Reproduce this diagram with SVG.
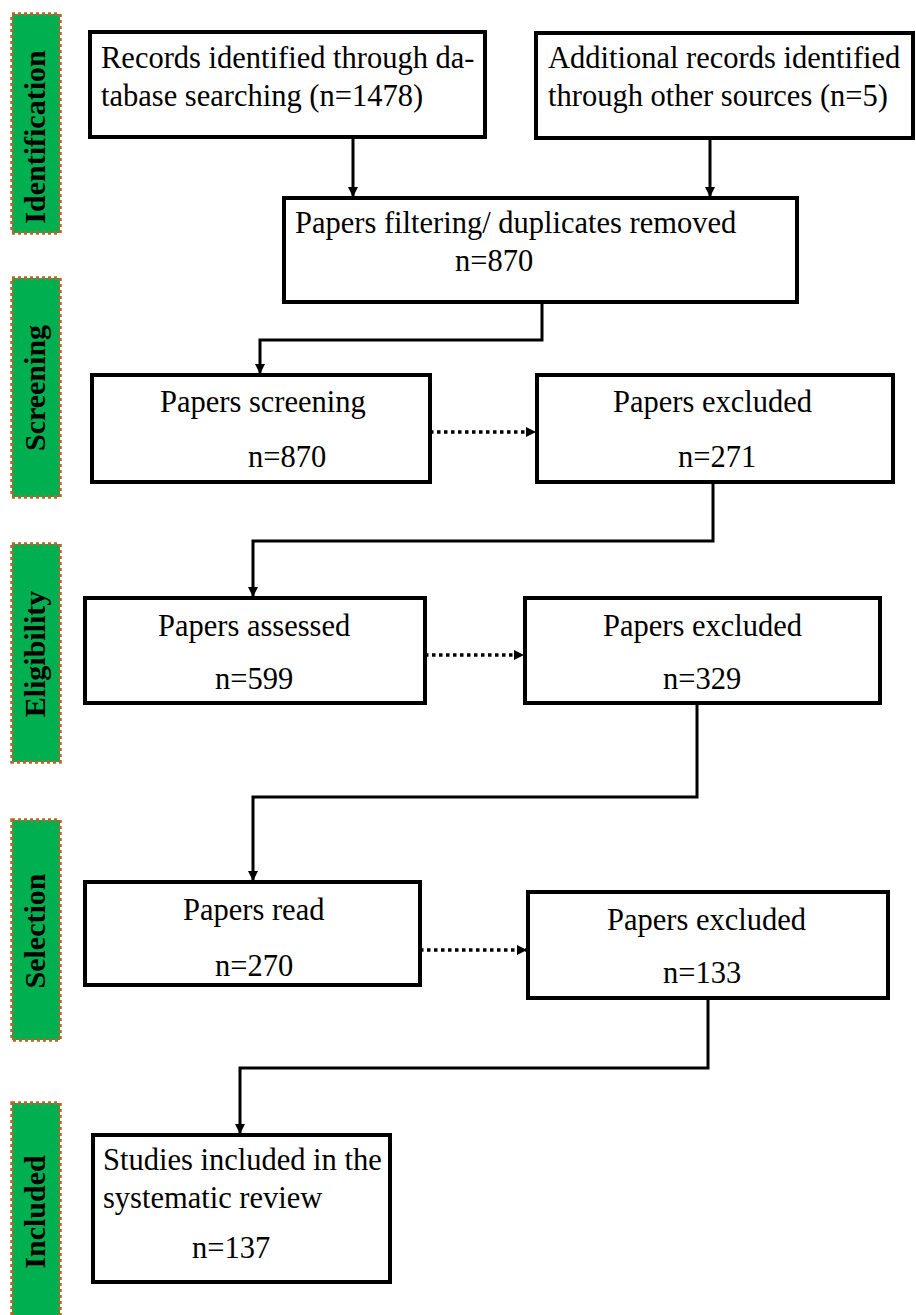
<svg xmlns="http://www.w3.org/2000/svg" width="916" height="1315" viewBox="0 0 916 1315">
<style>
.bar{fill:#00B050;stroke:#B8642A;stroke-width:3.5;stroke-dasharray:3 3}
.lbl{font-family:"Liberation Serif","Times New Roman",serif;font-weight:bold;font-size:30px;fill:#000;text-anchor:middle}
.box{fill:#fff;stroke:#000;stroke-width:4}
.t{font-family:"Liberation Serif","Times New Roman",serif;font-size:30.5px;fill:#000}
.c{fill:none;stroke:#000;stroke-width:3}
.d{fill:none;stroke:#000;stroke-width:3.5;stroke-dasharray:3.5 3.5}
</style>
<defs>
<marker id="ah" markerWidth="10" markerHeight="10" refX="9" refY="5" orient="auto" markerUnits="userSpaceOnUse">
<path d="M0,0 L10,5 L0,10 z" fill="#000"/>
</marker>
</defs>
<rect width="916" height="1315" fill="#fff"/>

<g id="phase-identification"><rect class="bar" x="12" y="14" width="48" height="219"/><text class="lbl" transform="translate(45,137) rotate(-90)">Identification</text></g>
<g id="phase-screening"><rect class="bar" x="12" y="278" width="48" height="219"/><text class="lbl" transform="translate(45,388) rotate(-90)">Screening</text></g>
<g id="phase-eligibility"><rect class="bar" x="12" y="544" width="48" height="218"/><text class="lbl" transform="translate(45,654) rotate(-90)">Eligibility</text></g>
<g id="phase-selection"><rect class="bar" x="12" y="820" width="48" height="220"/><text class="lbl" transform="translate(45,931) rotate(-90)">Selection</text></g>
<g id="phase-included"><rect class="bar" x="12" y="1103" width="48" height="220"/><text class="lbl" transform="translate(45,1212) rotate(-90)">Included</text></g>

<g id="connectors">
<path class="c" d="M353,137 V196" marker-end="url(#ah)"/>
<path class="c" d="M710,138 V196" marker-end="url(#ah)"/>
<path class="c" d="M542,302 V340 H260 V373" marker-end="url(#ah)"/>
<path class="d" d="M430,432 H535" marker-end="url(#ah)"/>
<path class="c" d="M713,482 V541 H253 V596" marker-end="url(#ah)"/>
<path class="d" d="M425,655 H523" marker-end="url(#ah)"/>
<path class="c" d="M697,703 V797 H253 V880" marker-end="url(#ah)"/>
<path class="d" d="M420,950 H526" marker-end="url(#ah)"/>
<path class="c" d="M708,998 V1068 H240 V1133" marker-end="url(#ah)"/>
</g>

<g id="records-db"><rect class="box" x="90" y="32" width="395" height="105"/><text class="t" x="101" y="68">Records identified through da-</text><text class="t" x="101" y="106">tabase searching (n=1478)</text></g>
<g id="records-other"><rect class="box" x="536" y="33" width="377" height="105"/><text class="t" x="548" y="68">Additional records identified</text><text class="t" x="548" y="106">through other sources (n=5)</text></g>
<g id="filtering"><rect class="box" x="284" y="198" width="513" height="104"/><text class="t" x="295" y="233">Papers filtering/ duplicates removed</text><text class="t" x="455" y="271">n=870</text></g>
<g id="screening"><rect class="box" x="92" y="375" width="338" height="107"/><text class="t" x="160" y="412">Papers screening</text><text class="t" x="248" y="467">n=870</text></g>
<g id="excluded-1"><rect class="box" x="537" y="375" width="356" height="107"/><text class="t" x="613" y="412">Papers excluded</text><text class="t" x="678" y="467">n=271</text></g>
<g id="assessed"><rect class="box" x="85" y="598" width="340" height="105"/><text class="t" x="158" y="636">Papers assessed</text><text class="t" x="215" y="689">n=599</text></g>
<g id="excluded-2"><rect class="box" x="525" y="598" width="355" height="105"/><text class="t" x="603" y="636">Papers excluded</text><text class="t" x="663" y="689">n=329</text></g>
<g id="read"><rect class="box" x="85" y="882" width="335" height="103"/><text class="t" x="183" y="920">Papers read</text><text class="t" x="215" y="976">n=270</text></g>
<g id="excluded-3"><rect class="box" x="528" y="892" width="360" height="106"/><text class="t" x="607" y="930">Papers excluded</text><text class="t" x="663" y="983">n=133</text></g>
<g id="included"><rect class="box" x="93" y="1135" width="297" height="147"/><text class="t" x="103" y="1170">Studies included in the</text><text class="t" x="103" y="1208">systematic review</text><text class="t" x="192" y="1258">n=137</text></g>
</svg>
